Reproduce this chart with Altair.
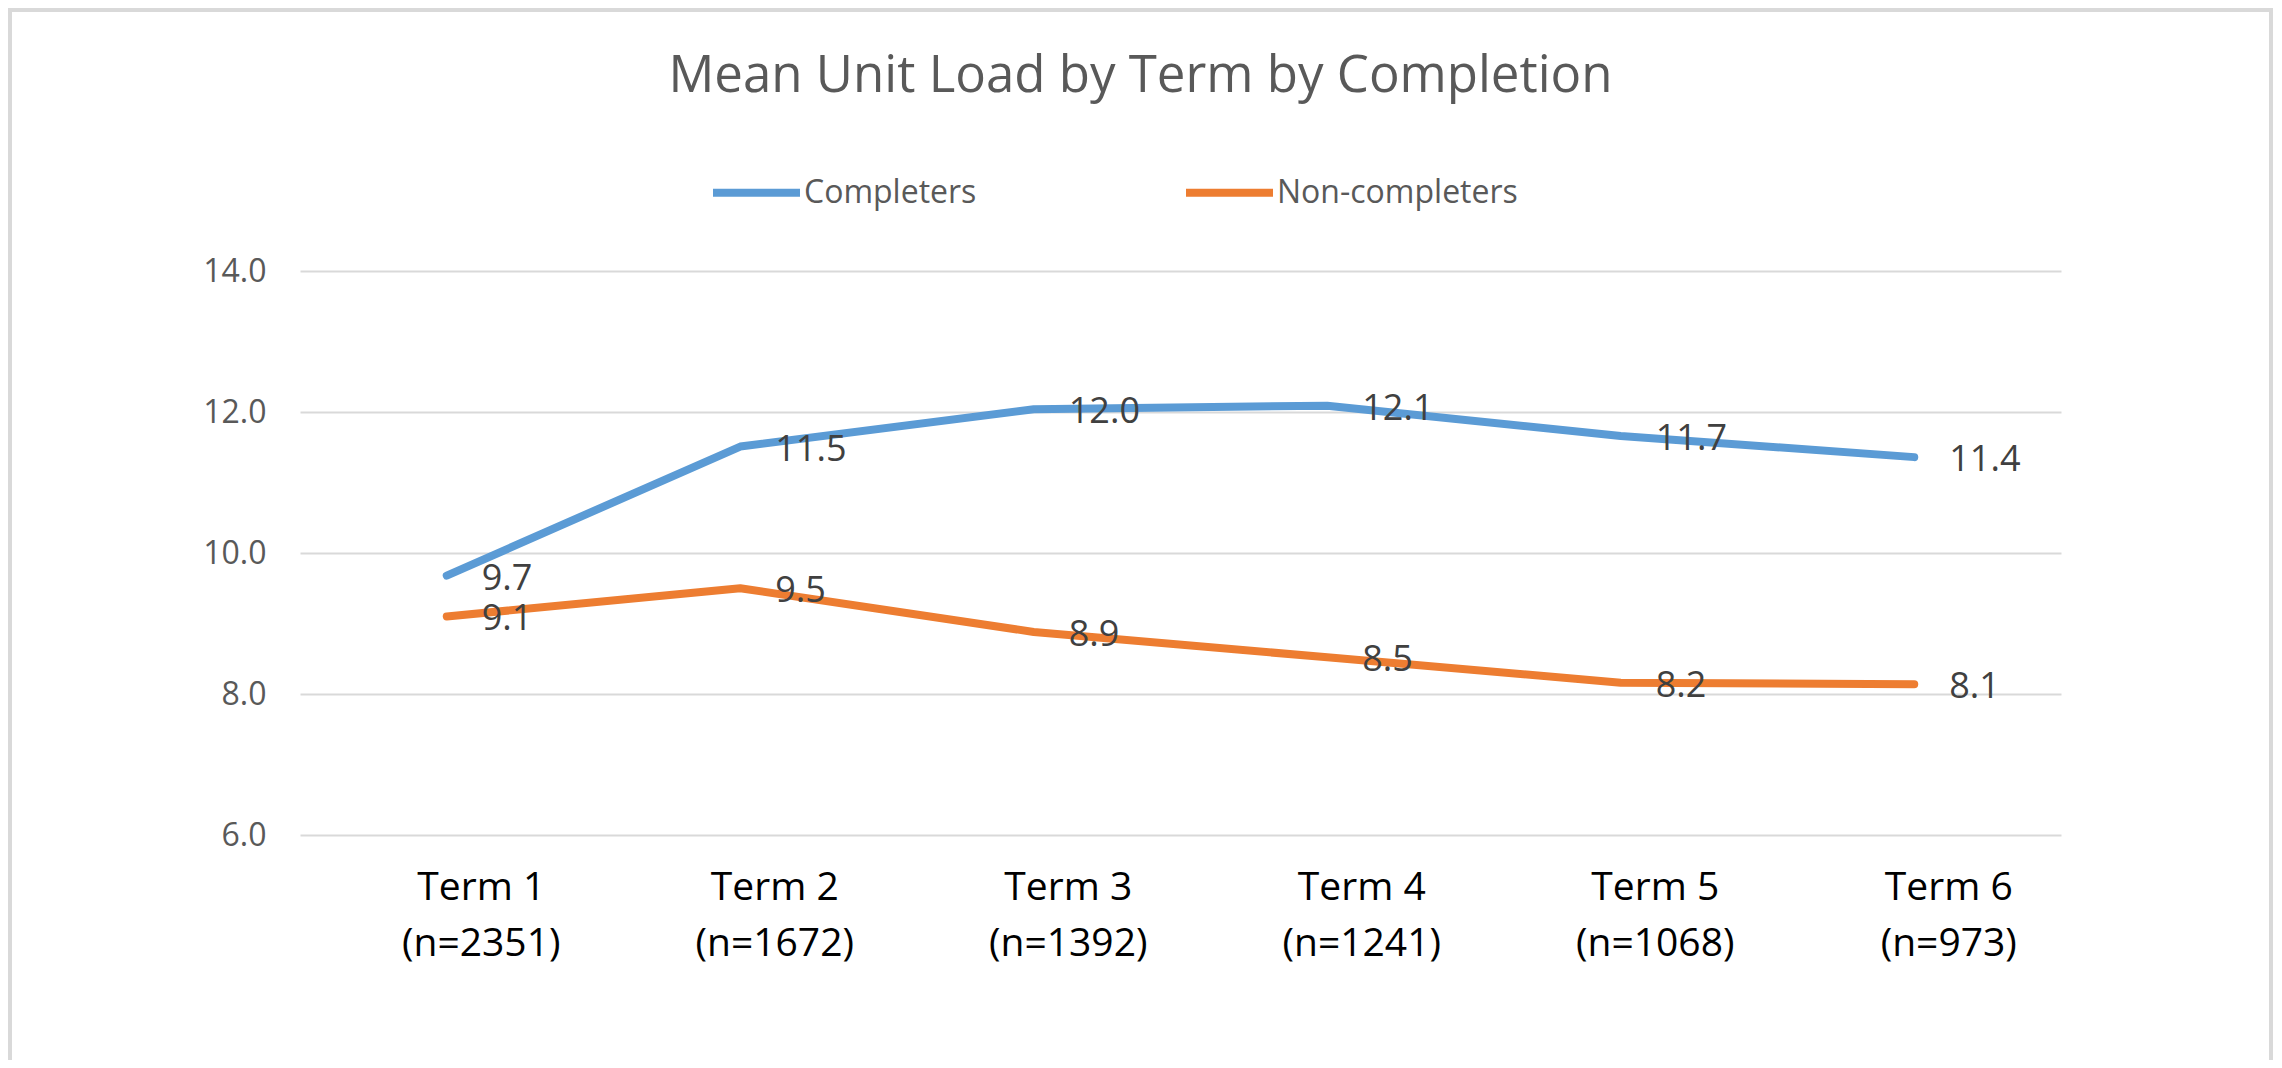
import altair as alt
import pandas as pd

terms = ["Term 1", "Term 2", "Term 3", "Term 4", "Term 5", "Term 6"]
n_counts = [2351, 1672, 1392, 1241, 1068, 973]
completers = [9.68, 11.51, 12.04, 12.09, 11.66, 11.36]
non_completers = [9.10, 9.50, 8.88, 8.52, 8.16, 8.14]
series_names = ["Completers", "Non-completers"]
series_colors = ["#5B9BD5", "#ED7D31"]
y_ticks = [6, 8, 10, 12, 14]

cats = [f"{t}|(n={n})" for t, n in zip(terms, n_counts)]
rows = []
for c, v in zip(cats, completers):
    rows.append({"term": c, "series": series_names[0], "value": v})
for c, v in zip(cats, non_completers):
    rows.append({"term": c, "series": series_names[1], "value": v})
df = pd.DataFrame(rows)

FONT = "Open Sans"

x_enc = alt.X(
    "term:N",
    sort=cats,
    scale=alt.Scale(type="point", padding=0.5),
    axis=alt.Axis(
        title=None,
        labelExpr="split(datum.label, '|')",
        labelAngle=0,
        labelFont=FONT,
        labelFontSize=39,
        labelColor="#000000",
        labelLineHeight=56,
        labelBaseline="top",
        labelPadding=33,
        labelOffset=34,
        domain=False,
        ticks=False,
        grid=False,
    ),
)
y_enc = alt.Y(
    "value:Q",
    scale=alt.Scale(domain=[6, 14], nice=False, zero=False),
    axis=alt.Axis(
        title=None,
        values=y_ticks,
        format=".1f",
        labelFont=FONT,
        labelFontSize=32,
        labelColor="#595959",
        labelPadding=34,
        domain=False,
        ticks=False,
        grid=True,
        gridColor="#D9D9D9",
        gridWidth=2,
    ),
)
color_enc = alt.Color(
    "series:N",
    scale=alt.Scale(domain=series_names, range=series_colors),
    legend=alt.Legend(
        title=None,
        orient="none",
        legendX=409,
        legendY=-126,
        direction="horizontal",
        symbolType="stroke",
        symbolStrokeWidth=8,
        symbolSize=7569,
        labelFont=FONT,
        labelFontSize=32,
        labelColor="#595959",
        labelOffset=0,
        labelLimit=600,
        columnPadding=193,
        padding=0,
    ),
)

base = alt.Chart(df)

lines = base.mark_line(strokeWidth=8, strokeCap="round", strokeJoin="round").encode(
    x=x_enc, y=y_enc, color=color_enc
)
labels = base.mark_text(
    align="left", baseline="middle", dx=35, dy=3, fontSize=36, font=FONT, color="#404040"
).encode(
    x=alt.X("term:N", sort=cats),
    y="value:Q",
    text=alt.Text("value:Q", format=".1f"),
    detail="series:N",
)

frame = alt.Chart(pd.DataFrame({"f": [0]})).mark_rect(
    fill=None, stroke="#D9D9D9", strokeWidth=4
).encode(
    x=alt.value(-290), x2=alt.value(1971), y=alt.value(-261), y2=alt.value(830)
)

chart = alt.layer(frame, lines, labels).properties(
    width=1761,
    height=564,
    autosize=alt.AutoSizeParams(type="none"),
    padding={"left": 292, "top": 263, "right": 213, "bottom": 225},
    title=alt.TitleParams(
        text="Mean Unit Load by Term by Completion",
        font=FONT,
        fontSize=51,
        fontWeight="normal",
        color="#595959",
        anchor="middle",
        frame="bounds",
        baseline="alphabetic",
        offset=-135,
    ),
).configure_view(stroke=None)

chart.save("out.html", embed_options={"renderer": "svg", "actions": False})
